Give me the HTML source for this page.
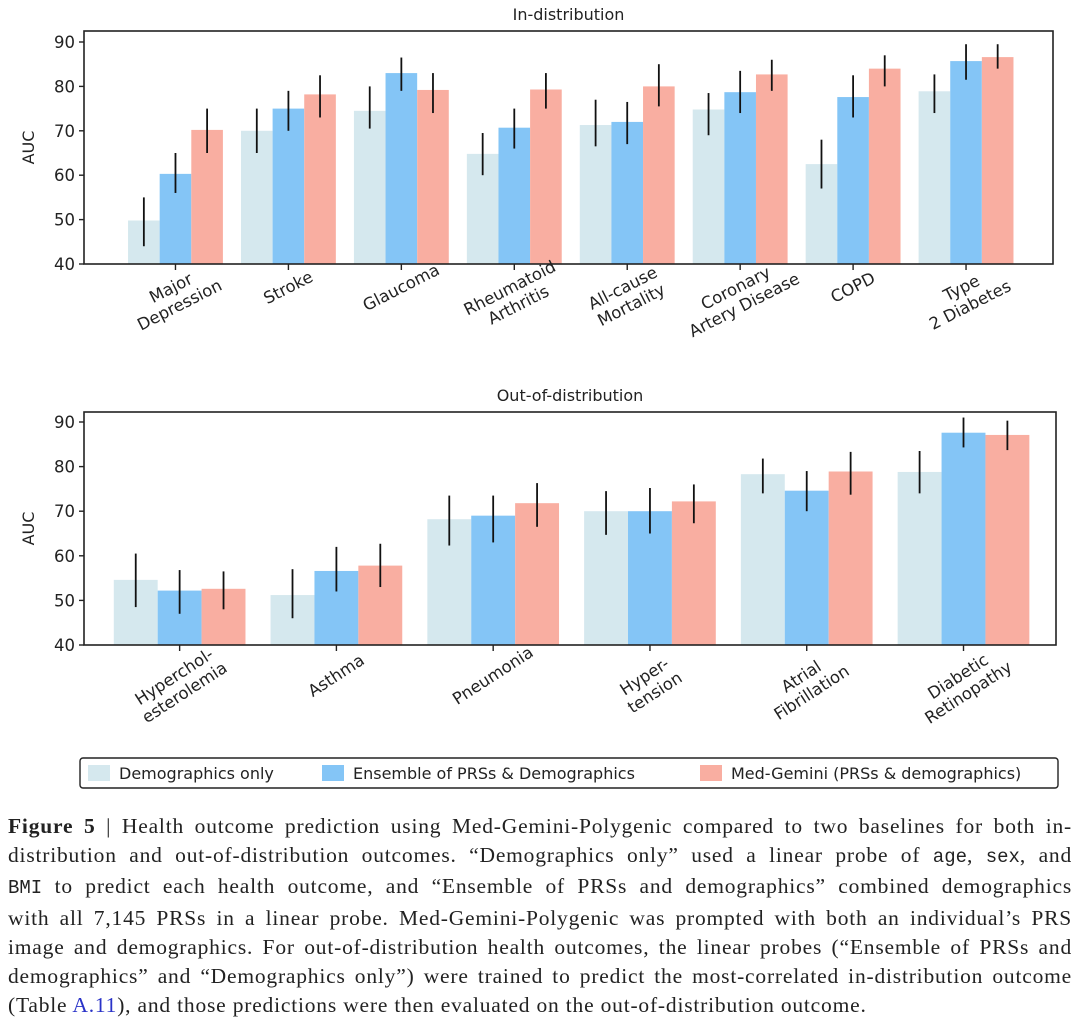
<!DOCTYPE html>
<html><head><meta charset="utf-8">
<style>
html,body{margin:0;padding:0;background:#fff;}
body{width:1080px;height:1035px;position:relative;overflow:hidden;}
svg text{font-family:"DejaVu Sans","Liberation Sans",sans-serif;fill:#222;}
#caption{position:absolute;left:8px;top:812px;width:1064px;font-family:"Liberation Serif",serif;font-size:21.5px;letter-spacing:0.8px;line-height:29.2px;color:#222;}
#caption div{text-align:justify;text-align-last:justify;white-space:nowrap;}
#caption div.last{text-align-last:left;}
.mono{font-family:"Liberation Mono",monospace;font-size:19px;letter-spacing:0;}
.lnk{color:#2a33c8;}
</style></head><body>
<svg id="chart" width="1080" height="800" style="position:absolute;left:0;top:0"></svg>
<div id="caption">
<div><b>Figure 5</b> | Health outcome prediction using Med-Gemini-Polygenic compared to two baselines for both in-</div>
<div>distribution and out-of-distribution outcomes. “Demographics only” used a linear probe of <span class="mono">age</span>, <span class="mono">sex</span>, and</div>
<div><span class="mono">BMI</span> to predict each health outcome, and “Ensemble of PRSs and demographics” combined demographics</div>
<div>with all 7,145 PRSs in a linear probe. Med-Gemini-Polygenic was prompted with both an individual’s PRS</div>
<div>image and demographics. For out-of-distribution health outcomes, the linear probes (“Ensemble of PRSs and</div>
<div>demographics” and “Demographics only”) were trained to predict the most-correlated in-distribution outcome</div>
<div class="last">(Table <span class="lnk">A.11</span>), and those predictions were then evaluated on the out-of-distribution outcome.</div>
</div>
<script>
const topCats = [["Major","Depression"],["Stroke"],["Glaucoma"],["Rheumatoid","Arthritis"],["All-cause","Mortality"],["Coronary","Artery Disease"],["COPD"],["Type","2 Diabetes"]];
const topDemo = [49.8,70,74.5,64.8,71.3,74.8,62.5,78.9];
const topDemoLo = [44,65,70.5,60,66.5,69,57,74];
const topDemoHi = [55,75,80,69.5,77,78.5,68,82.7];
const topEns = [60.3,75,83,70.7,72,78.7,77.6,85.7];
const topEnsLo = [56,70,79,66,67,74,73,81.5];
const topEnsHi = [65,79,86.5,75,76.5,83.5,82.5,89.5];
const topGem = [70.2,78.2,79.2,79.3,80,82.7,84,86.6];
const topGemLo = [65,73,74,75,75.5,79,80,84];
const topGemHi = [75,82.5,83,83,85,86,87,89.5];

const botCats = [["Hyperchol-","esterolemia"],["Asthma"],["Pneumonia"],["Hyper-","tension"],["Atrial","Fibrillation"],["Diabetic","Retinopathy"]];
const botDemo = [54.6,51.2,68.2,70,78.3,78.8];
const botDemoLo = [48.5,46,62.3,64.7,74,74];
const botDemoHi = [60.5,57,73.5,74.5,81.8,83.5];
const botEns = [52.2,56.6,69,70,74.6,87.6];
const botEnsLo = [47,52,63,65,70,84.3];
const botEnsHi = [56.8,62,73.5,75.2,79,91];
const botGem = [52.6,57.8,71.8,72.2,78.9,87.1];
const botGemLo = [48,53,66.5,67.3,73.7,83.7];
const botGemHi = [56.5,62.7,76.3,76,83.3,90.3];

const yTicks = [40,50,60,70,80,90];
const colors = ["#d5e8ee","#84c5f6","#f9aea1"];
const NS="http://www.w3.org/2000/svg";
const svg=document.getElementById('chart');
function mk(tag,attrs,parent){const e=document.createElementNS(NS,tag);for(const k in attrs)e.setAttribute(k,attrs[k]);(parent||svg).appendChild(e);return e;}

function panel(opt){
  const {name,title,titleY,left,right,top,bottom,y40,y90,cats,series,lo,hi,xmin,xmax,rot,labY}=opt;
  const g=mk('g',{});
  
  
  const yS=v=>y40+(v-40)*(y90-y40)/50;
  const xS=i=>left+(i-xmin)*(right-left)/(xmax-xmin);
  const step=(right-left)/(xmax-xmin);
  const bw=step*0.28;
  const t=mk('text',{x:(left+right)/2,y:titleY,'text-anchor':'middle','font-size':'16'},g);
  t.textContent=title;
  
  
  for(let s=0;s<3;s++){
    for(let i=0;i<cats.length;i++){
      const cx=xS(i)+(s-1)*bw;
      const v=series[s][i];
      const r=mk('rect',{x:cx-bw/2,y:yS(v),width:bw,height:yS(40)-yS(v),fill:colors[s]},g);
      
      
      const e=mk('line',{x1:cx,x2:cx,y1:yS(lo[s][i]),y2:yS(hi[s][i]),stroke:'#111','stroke-width':'1.8'},g);
      
      
    }
  }
  const fr=mk('rect',{x:left,y:top,width:right-left,height:bottom-top,fill:'none',stroke:'#222','stroke-width':'1.6'},g);
  
  
  yTicks.forEach(v=>{
    mk('line',{x1:left-5,x2:left,y1:yS(v),y2:yS(v),stroke:'#222','stroke-width':'1.4'},g);
    const tl=mk('text',{x:left-9,y:yS(v)+6,'text-anchor':'end','font-size':'16.5'},g);
    tl.textContent=v;
    
    
  });
  const yt=mk('text',{transform:`translate(${left-50},${(top+bottom)/2}) rotate(-90)`,'text-anchor':'middle','font-size':'16'},g);
  yt.textContent='AUC';
  
  
  cats.forEach((c,i)=>{
    const x=xS(i);
    mk('line',{x1:x,x2:x,y1:bottom,y2:bottom+6,stroke:'#222','stroke-width':'1.4'},g);
    const cy=labY+(c.length-1)*9;
    const tx=mk('text',{transform:`translate(${x},${cy}) rotate(${rot})`,'text-anchor':'middle','font-size':'16.5'},g);
    
    
    c.forEach((ln,k)=>{
      const sp=mk('tspan',{x:0,y:(k-(c.length-1)/2)*19+5},tx);
      sp.textContent=ln;
    });
  });
}
panel({name:'in-distribution-chart',title:'In-distribution',titleY:20,left:84,right:1053,top:31,bottom:264,y40:264,y90:42,
  cats:topCats,series:[topDemo,topEns,topGem],lo:[topDemoLo,topEnsLo,topGemLo],hi:[topDemoHi,topEnsHi,topGemHi],
  xmin:-0.81,xmax:7.77,rot:-27,labY:288});
panel({name:'out-of-distribution-chart',title:'Out-of-distribution',titleY:401,left:84,right:1056,top:412,bottom:645,y40:645,y90:422,
  cats:botCats,series:[botDemo,botEns,botGem],lo:[botDemoLo,botEnsLo,botGemLo],hi:[botDemoHi,botEnsHi,botGemHi],
  xmin:-0.61,xmax:5.59,rot:-33,labY:676});

// legend
const lg=mk('g',{});


mk('rect',{x:80,y:758,width:978,height:30,rx:3,fill:'#fff',stroke:'#222','stroke-width':'1.4'},lg);
const legendLabels=["Demographics only","Ensemble of PRSs & Demographics","Med-Gemini (PRSs & demographics)"];
const legX=[88,322,700];
legendLabels.forEach((l,i)=>{
  const sw=mk('rect',{x:legX[i],y:765,width:22,height:16,fill:colors[i]},lg);
  
  
  const t=mk('text',{x:legX[i]+31,y:779,'font-size':'16'},lg);
  t.textContent=l;
  
  
});
</script>
</body></html>
